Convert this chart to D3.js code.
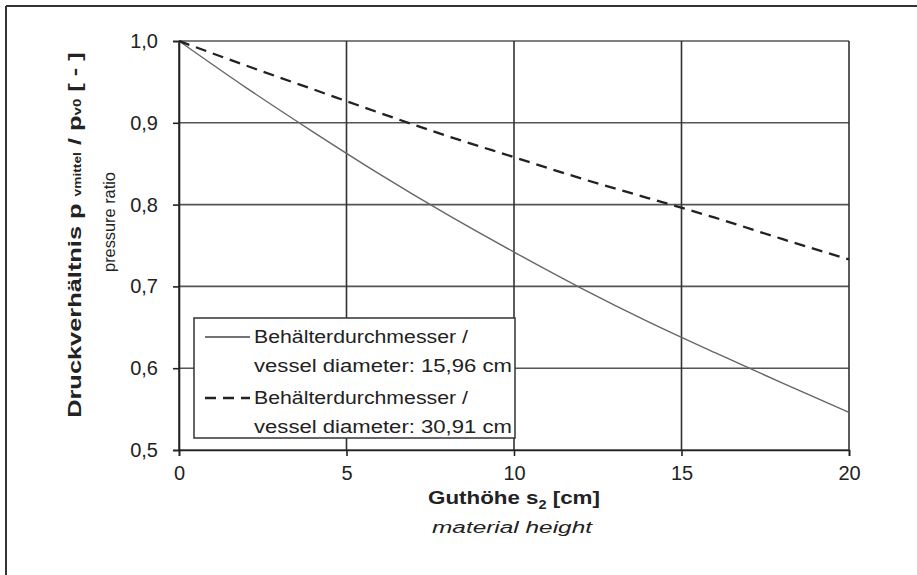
<!DOCTYPE html>
<html>
<head>
<meta charset="utf-8">
<script src="https://d3js.org/d3.v7.min.js"></script>
<style>
  body { margin: 0; background: #fff; }
  svg text { font-family: "Liberation Sans", Arial, sans-serif; fill: #222; }
</style>
</head>
<body>
<div id="chart"></div>
<script>
// heights (cm) and pressure ratios
const heights = [0, 2, 4, 6, 8, 10, 12, 14, 16, 18, 20];
const ratioSmall = [1.000, 0.943, 0.889, 0.837, 0.788, 0.742, 0.698, 0.657, 0.619, 0.582, 0.546];
const ratioLarge = [1.000, 0.970, 0.941, 0.912, 0.884, 0.858, 0.832, 0.808, 0.784, 0.758, 0.733];
const xTicks = [0, 5, 10, 15, 20];
const yTicks = [0.5, 0.6, 0.7, 0.8, 0.9, 1.0];
const legendLines = [
  ["Behälterdurchmesser /", "vessel diameter: 15,96 cm"],
  ["Behälterdurchmesser /", "vessel diameter: 30,91 cm"]
];

const W = 917, H = 575;
const margin = {top: 41, right: 68, bottom: 125, left: 179};

const svg = d3.select("#chart").append("svg")
  .attr("width", W).attr("height", H);

// the picture is stretched sideways: widen glyphs of a text placed at (0,0)
function stretch(sel, target, base) {
  const k = target / sel.node().getComputedTextLength();
  sel.attr("transform", base + " scale(" + k.toFixed(3) + ",1)");
  return sel;
}

// outer frame (top and left only visible)
svg.append("line").attr("x1", 6).attr("x2", W).attr("y1", 6).attr("y2", 6)
  .attr("stroke", "#333").attr("stroke-width", 2);
svg.append("line").attr("x1", 6).attr("x2", 6).attr("y1", 6).attr("y2", H)
  .attr("stroke", "#333").attr("stroke-width", 2);

const x = d3.scaleLinear().domain([0, 20]).range([margin.left, W - margin.right]);
const y = d3.scaleLinear().domain([0.5, 1.0]).range([H - margin.bottom, margin.top]);

const fmt = d => d3.format(".1f")(d).replace(".", ",");

// grid
const grid = svg.append("g");
grid.selectAll(".hg").data(yTicks).join("line")
  .attr("x1", x(0)).attr("x2", x(20))
  .attr("y1", d => y(d)).attr("y2", d => y(d))
  .attr("stroke", "#555").attr("stroke-width", 1.6);
grid.selectAll(".vg").data(xTicks).join("line")
  .attr("x1", d => x(d)).attr("x2", d => x(d))
  .attr("y1", y(1.0)).attr("y2", y(0.5))
  .attr("stroke", "#333").attr("stroke-width", 1.6);

// axes
const xAxis = svg.append("g")
  .attr("transform", "translate(0," + y(0.5) + ")")
  .call(d3.axisBottom(x).tickValues(xTicks).tickSize(6).tickPadding(10).tickFormat(d => d));
const yAxis = svg.append("g")
  .attr("transform", "translate(" + x(0) + ",0)")
  .call(d3.axisLeft(y).tickValues(yTicks).tickSize(6).tickPadding(15).tickFormat(fmt));
[xAxis, yAxis].forEach(a => {
  a.select(".domain").attr("stroke", "#222").attr("stroke-width", 1.6);
  a.selectAll(".tick line").attr("stroke", "#222").attr("stroke-width", 1.6);
  a.selectAll("text").attr("font-size", 20).attr("fill", "#333")
    .attr("font-family", "Liberation Sans, Arial, sans-serif");
});

// curves
const line = d3.line().x((d, i) => x(heights[i])).y(d => y(d)).curve(d3.curveMonotoneX);
svg.append("path").datum(ratioSmall).attr("d", line)
  .attr("fill", "none").attr("stroke", "#666").attr("stroke-width", 1.4);
svg.append("path").datum(ratioLarge).attr("d", line)
  .attr("fill", "none").attr("stroke", "#222").attr("stroke-width", 2.3)
  .attr("stroke-dasharray", "11,7");

// legend
const lg = svg.append("g");
lg.append("rect").attr("x", 194).attr("y", 318).attr("width", 321).attr("height", 120)
  .attr("fill", "#fff").attr("stroke", "#333").attr("stroke-width", 1.5);
const styles = [{dash: null, w: 1.4, c: "#444"}, {dash: "11,7", w: 2.3, c: "#222"}];
legendLines.forEach((lines, i) => {
  const y0 = 337 + i * 61;
  lg.append("line").attr("x1", 205).attr("x2", 250).attr("y1", y0).attr("y2", y0)
    .attr("stroke", styles[i].c).attr("stroke-width", styles[i].w)
    .attr("stroke-dasharray", styles[i].dash);
  lines.forEach((t, j) => {
    const tx = lg.append("text").attr("dy", "0.35em").attr("font-size", 18.5)
      .attr("fill", "#444").text(t);
    stretch(tx, j === 0 ? 214 : 258, "translate(254," + (y0 + j * 28.5) + ")");
  });
});

// x axis titles
const xt = svg.append("text").attr("text-anchor", "middle")
  .attr("font-size", 18.5).attr("font-weight", "bold");
xt.append("tspan").text("Guthöhe s");
xt.append("tspan").attr("font-size", 12).attr("dy", 5).text("2");
xt.append("tspan").attr("dy", -5).text(" [cm]");
stretch(xt, 172, "translate(" + x(10) + ",504)");
stretch(svg.append("text").attr("text-anchor", "middle").attr("font-size", 17)
  .attr("font-style", "italic").attr("fill", "#444").text("material height"),
  160, "translate(" + (x(10) - 2) + ",533)");

// y axis titles
const yt = svg.append("text").attr("text-anchor", "middle")
  .attr("font-size", 18.5).attr("font-weight", "bold");
yt.append("tspan").text("Druckverhältnis p ");
yt.append("tspan").attr("font-size", 10).text("vmittel");
yt.append("tspan").text(" / p");
yt.append("tspan").attr("font-size", 11).text("v0");
yt.append("tspan").text("  [ - ]");
stretch(yt, 366, "translate(81,235) rotate(-90)");
stretch(svg.append("text").attr("text-anchor", "middle").attr("font-size", 16)
  .attr("fill", "#444").text("pressure ratio"), 100, "translate(115,222) rotate(-90)");
</script>
</body>
</html>
